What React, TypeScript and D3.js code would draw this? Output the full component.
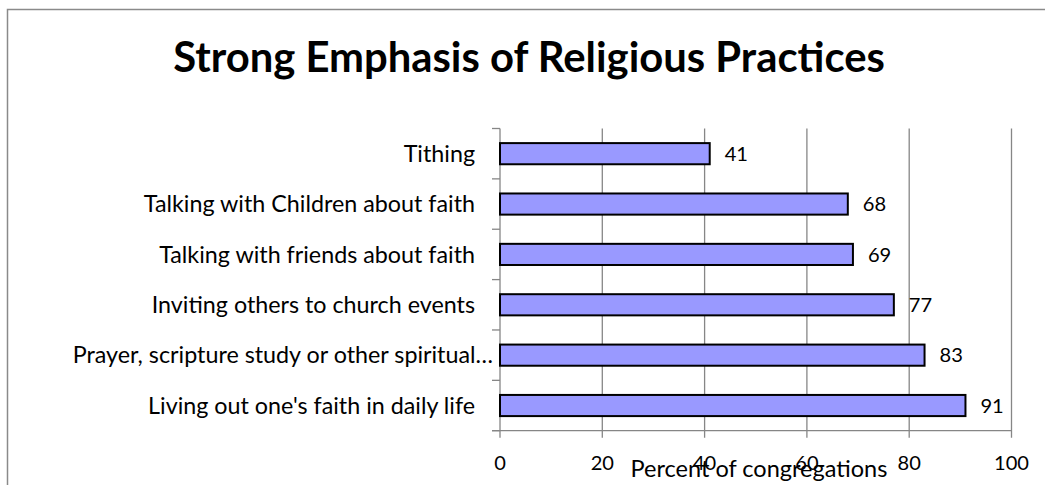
import React, { useEffect, useRef } from "react";
import * as d3 from "d3";

const categories = [
  "Tithing",
  "Talking with Children about faith",
  "Talking with friends about faith",
  "Inviting others to church events",
  "Prayer, scripture study or other spiritual…",
  "Living out one's faith in daily life",
];
const values = [41, 68, 69, 77, 83, 91];
const xTicks = [0, 20, 40, 60, 80, 100];
const titleText = "Strong Emphasis of Religious Practices";
const axisTitle = "Percent of congregations";

const W = 1045;
const H = 485;
const FONT = "Lato, 'Open Sans', 'DejaVu Sans', sans-serif";

export default function App() {
  const ref = useRef<SVGSVGElement | null>(null);

  useEffect(() => {
    const svg = d3.select(ref.current);
    svg.selectAll("*").remove();

    const left = 500, right = 1011.5, top = 128.5, bottom = 430.7;
    const x = d3.scaleLinear().domain([0, 100]).range([left, right]);
    const y = d3.scaleBand<string>().domain(categories).range([top, bottom]).paddingInner(0.58).paddingOuter(0.29);

    svg.append("rect").attr("width", W).attr("height", H).attr("fill", "#fff");
    svg.append("rect").attr("x", 7.5).attr("y", 9.5).attr("width", 1050).attr("height", 500)
      .attr("fill", "none").attr("stroke", "#8a8a8a").attr("stroke-width", 1.5);

    const fit = (sel: any, base: number, target: number) => {
      sel.attr("font-size", base);
      const len = (sel.node() as SVGTextElement).getComputedTextLength();
      const fs = len > 0 ? base * target / len : base;
      sel.attr("font-size", fs);
      return fs;
    };
    const measure = (txt: string, base: number, target: number) => {
      const s = svg.append("text").attr("font-family", FONT).text(txt);
      const fs = fit(s, base, target);
      s.remove();
      return fs;
    };

    const t = svg.append("text").attr("x", 529).attr("y", 71.7).attr("text-anchor", "middle")
      .attr("font-family", FONT).attr("font-weight", "bold").attr("fill", "#000").text(titleText);
    fit(t, 36, 712);

    svg.append("g").selectAll("line").data(xTicks.filter(d => d > 0)).join("line")
      .attr("x1", d => x(d)).attr("x2", d => x(d)).attr("y1", top).attr("y2", bottom + 7)
      .attr("stroke", "#868686").attr("stroke-width", 1.3);

    svg.append("line").attr("x1", left - 8).attr("x2", right).attr("y1", bottom).attr("y2", bottom)
      .attr("stroke", "#868686").attr("stroke-width", 1.3);
    svg.append("line").attr("x1", left).attr("x2", left).attr("y1", top).attr("y2", bottom + 7)
      .attr("stroke", "#868686").attr("stroke-width", 1.3);

    const step = y.step();
    const bounds = d3.range(categories.length + 1).map(i => top + i * step);
    svg.append("g").selectAll("line").data(bounds).join("line")
      .attr("x1", left - 8).attr("x2", left).attr("y1", d => d).attr("y2", d => d)
      .attr("stroke", "#868686").attr("stroke-width", 1.3);

    svg.append("g").selectAll("rect").data(categories).join("rect")
      .attr("x", left).attr("y", d => y(d)!)
      .attr("width", (d, i) => x(values[i]) - left).attr("height", y.bandwidth())
      .attr("fill", "#9999FF").attr("stroke", "#000").attr("stroke-width", 2);

    const numFs = measure("100", 20, 35);

    svg.append("g").selectAll("text").data(categories).join("text")
      .attr("x", (d, i) => x(values[i]) + 15).attr("y", d => y(d)! + y.bandwidth() / 2)
      .attr("dy", "0.36em").attr("font-family", FONT).attr("font-size", numFs).attr("fill", "#000")
      .text((d, i) => String(values[i]));

    const catFs = measure(categories[5], 20, 327);
    svg.append("g").selectAll("text").data(categories).join("text")
      .attr("x", d => d.endsWith("…") ? left - 7 : left - 25)
      .attr("y", d => y(d)! + y.bandwidth() / 2)
      .attr("dy", "0.35em").attr("text-anchor", "end")
      .attr("font-family", FONT).attr("font-size", catFs).attr("fill", "#000").text(d => d);

    svg.append("g").selectAll("text").data(xTicks).join("text")
      .attr("x", d => x(d)).attr("y", 470).attr("text-anchor", "middle")
      .attr("font-family", FONT).attr("font-size", numFs).attr("fill", "#000").text(d => String(d));

    const at = svg.append("text").attr("x", 759).attr("y", 477).attr("text-anchor", "middle")
      .attr("font-family", FONT).attr("fill", "#000").text(axisTitle);
    fit(at, 22, 257);
  }, []);

  return (
    <svg ref={ref} width={W} height={H}
      style={{ position: "absolute", left: 0, top: 0, display: "block" }} />
  );
}
